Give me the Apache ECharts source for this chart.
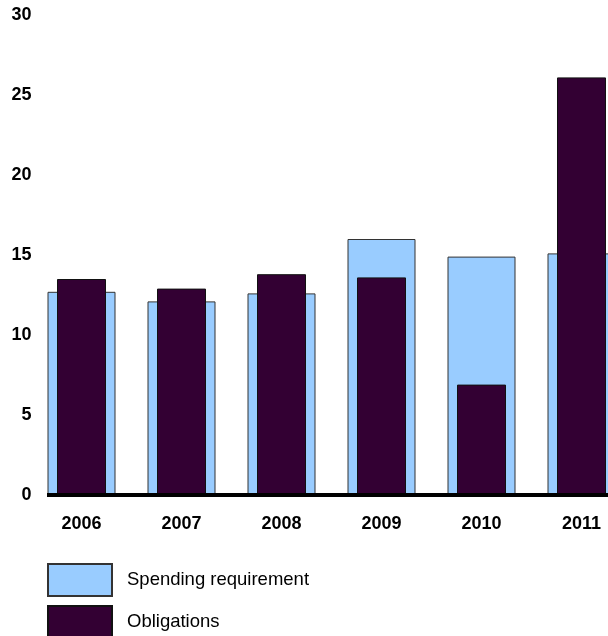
<!DOCTYPE html>
<html>
<head>
<meta charset="utf-8">
<style>
  html, body { margin: 0; padding: 0; background: #fff; }
  #chart { width: 608px; height: 636px; }
</style>
<script src="https://cdn.jsdelivr.net/npm/echarts@6/dist/echarts.min.js"></script>
</head>
<body>
<div id="chart"></div>
<script>
// chart data
const years = ['2006', '2007', '2008', '2009', '2010', '2011']
const spending = [12.7, 12.1, 12.6, 16.0, 14.9, 15.1]
const obligations = [13.5, 12.9, 13.8, 13.6, 6.9, 26.1]
const yTicks = [0, 5, 10, 15, 20, 25, 30]

const labelFont = { fontFamily: 'Liberation Sans, Arial, sans-serif', fontWeight: 'bold', fontSize: 18, color: '#000' }

const chart = echarts.init(document.getElementById('chart'))
chart.setOption({
  animation: false,
  grid: {
    left: 31.5,
    top: 15,
    width: 600,
    bottom: 141,
    outerBoundsMode: 'none'
  },
  legend: {
    orient: 'vertical',
    left: 47,
    top: 563,
    padding: 0,
    height: 80,
    itemWidth: 64,
    itemHeight: 32,
    itemGap: 8,
    icon: 'rect',
    textStyle: { fontFamily: 'Liberation Sans, Arial, sans-serif', fontSize: 18.5, color: '#000', padding: [0, 0, 0, 10] },
    data: ['Spending requirement', 'Obligations']
  },
  xAxis: [
    {
      type: 'category',
      data: years,
      axisLine: { show: false },
      axisTick: { show: false },
      axisLabel: { ...labelFont, margin: 20 }
    },
    {
      // hidden twin axis so the narrower bars sit centred on the wider ones
      type: 'category',
      data: years,
      show: false
    }
  ],
  yAxis: {
    type: 'value',
    min: yTicks[0],
    max: yTicks[yTicks.length - 1],
    interval: 5,
    splitLine: { show: false },
    axisLine: { show: false },
    axisTick: { show: false },
    axisLabel: { ...labelFont, margin: 0, padding: [4, 0, 0, 0] }
  },
  series: [
    {
      name: 'Spending requirement',
      type: 'bar',
      xAxisIndex: 0,
      data: spending,
      barWidth: 68,
      itemStyle: { color: '#99ccff', borderColor: '#333333', borderWidth: 1 }
    },
    {
      name: 'Obligations',
      type: 'bar',
      xAxisIndex: 1,
      data: obligations,
      barWidth: 49,
      itemStyle: { color: '#330033', borderColor: '#111111', borderWidth: 1 },
      markLine: {
        silent: true,
        symbol: 'none',
        label: { show: false },
        lineStyle: { color: '#000', width: 4, type: 'solid' },
        data: [[{ xAxis: years[0], yAxis: 0, x: 47 }, { xAxis: years[years.length - 1], yAxis: 0, x: 608 }]]
      }
    }
  ]
})
</script>
</body>
</html>
